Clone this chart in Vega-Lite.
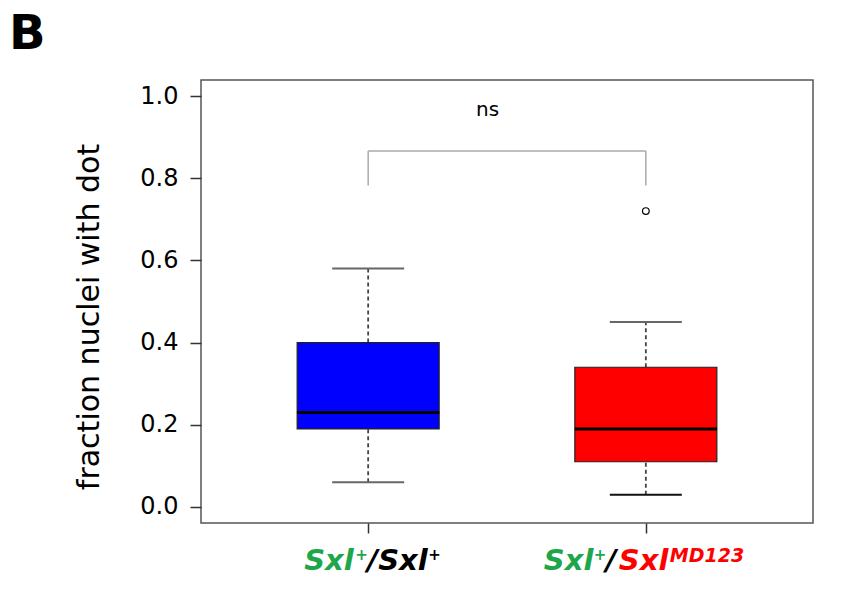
{
  "$schema": "https://vega.github.io/schema/vega-lite/v6.json",
  "width": 612,
  "height": 443,
  "autosize": "none",
  "padding": {"left": 201, "top": 80, "right": 35, "bottom": 90},
  "background": "white",
  "config": {
    "view": {"stroke": "#555555", "strokeWidth": 1.5},
    "font": "DejaVu Sans"
  },
  "title": {
    "text": "B",
    "anchor": "start",
    "frame": "group",
    "font": "DejaVu Sans",
    "fontSize": 48,
    "fontWeight": "bold",
    "color": "#000000",
    "dx": -192,
    "offset": 21
  },
  "datasets": {
    "boxes": [
      {"g": 1, "lo": 0.06, "q1": 0.19, "med": 0.23, "q3": 0.40, "hi": 0.58},
      {"g": 2, "lo": 0.03, "q1": 0.11, "med": 0.19, "q3": 0.34, "hi": 0.45}
    ]
  },
  "layer": [
    {
      "data": {"name": "boxes"},
      "mark": {"type": "rule", "strokeDash": [4, 3], "strokeWidth": 1.8, "color": "#444444"},
      "encoding": {
        "x": {"field": "g", "type": "quantitative", "scale": {"domain": [0.416, 2.584], "nice": false, "zero": false},
              "axis": {"values": [1, 2], "labels": false, "title": null, "grid": false, "domain": false, "tickSize": 10, "tickColor": "#333333", "tickWidth": 1.5}},
        "y": {"field": "q3", "type": "quantitative", "scale": {"domain": [-0.039, 1.039], "nice": false, "zero": false},
              "axis": {"values": [0, 0.2, 0.4, 0.6, 0.8, 1.0], "format": ".1f", "grid": false, "domain": false,
                       "tickSize": 11, "tickColor": "#333333", "tickWidth": 1.5,
                       "labelFont": "DejaVu Sans", "labelFontSize": 24, "labelColor": "#000000", "labelPadding": 12,
                       "title": "fraction nuclei with dot", "titleFont": "DejaVu Sans", "titleFontSize": 30,
                       "titleFontWeight": "normal", "titleColor": "#000000", "titleX": -112, "titleY": 236.5,
                       "titleAlign": "center", "titleBaseline": "middle", "titleAngle": 270}},
        "y2": {"field": "hi"}
      }
    },
    {
      "data": {"name": "boxes"},
      "mark": {"type": "rule", "strokeDash": [4, 3], "strokeWidth": 1.8, "color": "#444444"},
      "encoding": {
        "x": {"field": "g", "type": "quantitative"},
        "y": {"field": "lo", "type": "quantitative"},
        "y2": {"field": "q1"}
      }
    },
    {
      "data": {"name": "boxes"},
      "mark": {"type": "tick", "orient": "horizontal", "size": 72, "thickness": 2, "color": "#666666", "opacity": 1},
      "encoding": {
        "x": {"field": "g", "type": "quantitative"},
        "y": {"field": "hi", "type": "quantitative"}
      }
    },
    {
      "data": {"name": "boxes"},
      "mark": {"type": "tick", "orient": "horizontal", "size": 72, "thickness": 2, "opacity": 1},
      "encoding": {
        "x": {"field": "g", "type": "quantitative"},
        "y": {"field": "lo", "type": "quantitative"},
        "color": {"field": "g", "type": "nominal", "scale": {"domain": [1, 2], "range": ["#666666", "#111111"]}, "legend": null}
      }
    },
    {
      "data": {"name": "boxes"},
      "mark": {"type": "bar", "width": 142, "stroke": "#222222", "strokeWidth": 1.2, "opacity": 1},
      "encoding": {
        "x": {"field": "g", "type": "quantitative"},
        "y": {"field": "q1", "type": "quantitative"},
        "y2": {"field": "q3"},
        "fill": {"field": "g", "type": "nominal", "scale": {"domain": [1, 2], "range": ["#0000FF", "#FF0000"]}, "legend": null}
      }
    },
    {
      "data": {"name": "boxes"},
      "mark": {"type": "tick", "orient": "horizontal", "size": 142, "thickness": 3, "color": "#000000", "opacity": 1},
      "encoding": {
        "x": {"field": "g", "type": "quantitative"},
        "y": {"field": "med", "type": "quantitative"}
      }
    },
    {
      "data": {"values": [{"g": 2, "v": 0.72}]},
      "mark": {"type": "point", "shape": "circle", "size": 45, "filled": false, "stroke": "#000000", "strokeWidth": 1.2, "opacity": 1},
      "encoding": {
        "x": {"field": "g", "type": "quantitative"},
        "y": {"field": "v", "type": "quantitative"}
      }
    },
    {
      "data": {"values": [{"a": 1, "b": 2, "y": 0.866}]},
      "mark": {"type": "rule", "color": "#AAAAAA", "strokeWidth": 1.5},
      "encoding": {
        "x": {"field": "a", "type": "quantitative"},
        "x2": {"field": "b"},
        "y": {"field": "y", "type": "quantitative"}
      }
    },
    {
      "data": {"values": [{"g": 1, "y0": 0.782, "y1": 0.866}, {"g": 2, "y0": 0.782, "y1": 0.866}]},
      "mark": {"type": "rule", "color": "#AAAAAA", "strokeWidth": 1.5},
      "encoding": {
        "x": {"field": "g", "type": "quantitative"},
        "y": {"field": "y0", "type": "quantitative"},
        "y2": {"field": "y1"}
      }
    },
    {
      "data": {"values": [{"x": 1.43, "y": 0.965, "t": "ns"}]},
      "mark": {"type": "text", "font": "DejaVu Sans", "fontSize": 20, "color": "#000000", "baseline": "middle", "align": "center"},
      "encoding": {
        "x": {"field": "x", "type": "quantitative"},
        "y": {"field": "y", "type": "quantitative"},
        "text": {"field": "t"}
      }
    },
    {
      "data": {"values": [{"g": 1, "t": "Sxl"}]},
      "mark": {"type": "text", "font": "DejaVu Sans", "fontSize": 29, "fontWeight": "bold", "fontStyle": "italic", "color": "#1DA64A", "align": "left", "baseline": "alphabetic", "dx": -64},
      "encoding": {"x": {"field": "g", "type": "quantitative"}, "y": {"datum": -0.1545, "type": "quantitative"}, "text": {"field": "t"}}
    },
    {
      "data": {"values": [{"g": 1, "t": "+"}]},
      "mark": {"type": "text", "font": "DejaVu Sans", "fontSize": 15, "fontWeight": "bold", "color": "#1DA64A", "align": "left", "baseline": "alphabetic", "dx": -13, "dy": -10},
      "encoding": {"x": {"field": "g", "type": "quantitative"}, "y": {"datum": -0.1545, "type": "quantitative"}, "text": {"field": "t"}}
    },
    {
      "data": {"values": [{"g": 1, "t": "/"}]},
      "mark": {"type": "text", "font": "DejaVu Sans", "fontSize": 29, "fontWeight": "bold", "fontStyle": "italic", "color": "#000000", "align": "left", "baseline": "alphabetic", "dx": -1},
      "encoding": {"x": {"field": "g", "type": "quantitative"}, "y": {"datum": -0.1545, "type": "quantitative"}, "text": {"field": "t"}}
    },
    {
      "data": {"values": [{"g": 1, "t": "Sxl"}]},
      "mark": {"type": "text", "font": "DejaVu Sans", "fontSize": 29, "fontWeight": "bold", "fontStyle": "italic", "color": "#000000", "align": "left", "baseline": "alphabetic", "dx": 10},
      "encoding": {"x": {"field": "g", "type": "quantitative"}, "y": {"datum": -0.1545, "type": "quantitative"}, "text": {"field": "t"}}
    },
    {
      "data": {"values": [{"g": 1, "t": "+"}]},
      "mark": {"type": "text", "font": "DejaVu Sans", "fontSize": 15, "fontWeight": "bold", "color": "#000000", "align": "left", "baseline": "alphabetic", "dx": 60, "dy": -10},
      "encoding": {"x": {"field": "g", "type": "quantitative"}, "y": {"datum": -0.1545, "type": "quantitative"}, "text": {"field": "t"}}
    },
    {
      "data": {"values": [{"g": 2, "t": "Sxl"}]},
      "mark": {"type": "text", "font": "DejaVu Sans", "fontSize": 29, "fontWeight": "bold", "fontStyle": "italic", "color": "#1DA64A", "align": "left", "baseline": "alphabetic", "dx": -102},
      "encoding": {"x": {"field": "g", "type": "quantitative"}, "y": {"datum": -0.1545, "type": "quantitative"}, "text": {"field": "t"}}
    },
    {
      "data": {"values": [{"g": 2, "t": "+"}]},
      "mark": {"type": "text", "font": "DejaVu Sans", "fontSize": 15, "fontWeight": "bold", "color": "#1DA64A", "align": "left", "baseline": "alphabetic", "dx": -52, "dy": -10},
      "encoding": {"x": {"field": "g", "type": "quantitative"}, "y": {"datum": -0.1545, "type": "quantitative"}, "text": {"field": "t"}}
    },
    {
      "data": {"values": [{"g": 2, "t": "/"}]},
      "mark": {"type": "text", "font": "DejaVu Sans", "fontSize": 29, "fontWeight": "bold", "fontStyle": "italic", "color": "#000000", "align": "left", "baseline": "alphabetic", "dx": -40},
      "encoding": {"x": {"field": "g", "type": "quantitative"}, "y": {"datum": -0.1545, "type": "quantitative"}, "text": {"field": "t"}}
    },
    {
      "data": {"values": [{"g": 2, "t": "Sxl"}]},
      "mark": {"type": "text", "font": "DejaVu Sans", "fontSize": 29, "fontWeight": "bold", "fontStyle": "italic", "color": "#FF0000", "align": "left", "baseline": "alphabetic", "dx": -27},
      "encoding": {"x": {"field": "g", "type": "quantitative"}, "y": {"datum": -0.1545, "type": "quantitative"}, "text": {"field": "t"}}
    },
    {
      "data": {"values": [{"g": 2, "t": "MD123"}]},
      "mark": {"type": "text", "font": "DejaVu Sans", "fontSize": 19, "fontWeight": "bold", "fontStyle": "italic", "color": "#FF0000", "align": "left", "baseline": "alphabetic", "dx": 24, "dy": -8},
      "encoding": {"x": {"field": "g", "type": "quantitative"}, "y": {"datum": -0.1545, "type": "quantitative"}, "text": {"field": "t"}}
    }
  ]
}
